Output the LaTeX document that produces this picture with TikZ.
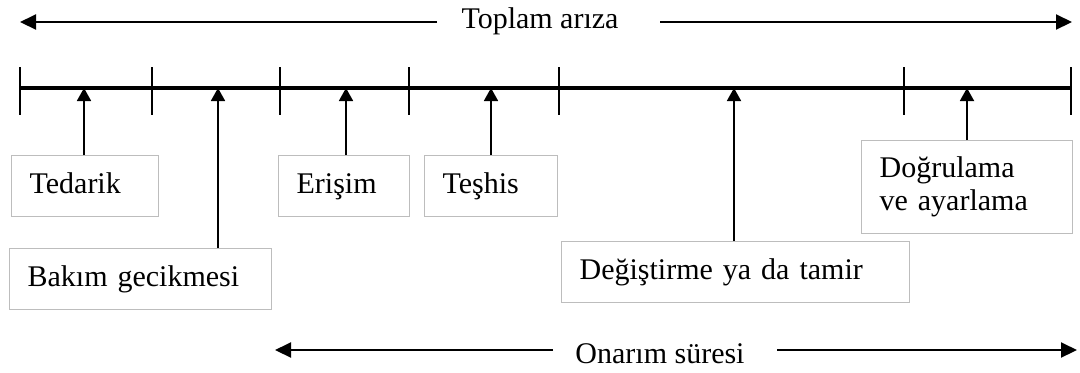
\documentclass[tikz,border=0pt]{standalone}
\usepackage{fontspec}
\setmainfont{Liberation Serif}
\usetikzlibrary{arrows.meta}
\definecolor{boxgray}{HTML}{BDBDBD}
\begin{document}
\begin{tikzpicture}[x=0.5pt,y=-0.5pt,
  box/.style={draw=boxgray, line width=0.6pt, anchor=north west, align=left,
    inner xsep=9pt, inner ysep=0pt, font=\fontsize{15}{16.5}\selectfont},
  onebox/.style={box, text height=11pt, text depth=4pt, minimum height=30.5pt},
  lbl/.style={font=\fontsize{15}{18}\selectfont, inner sep=0pt, anchor=base},
  span/.style={line width=1pt, -{Triangle[length=8pt,width=7.5pt]}},
  uparr/.style={line width=0.9pt, -{Triangle[length=6.5pt,width=7pt]}},
  tick/.style={line width=0.8pt}]
\useasboundingbox (0,0) rectangle (1080,372);

% top span arrow
\node[lbl] (total) at (540,28) {Toplam arıza};
\coordinate (tA) at (437,22);
\coordinate (tL) at (20,22);
\coordinate (tB) at (660,22);
\coordinate (tR) at (1072,22);
\draw[span] (tA) -- (tL);
\draw[span] (tB) -- (tR);

% timeline
\coordinate (s) at (20,88);
\coordinate (e) at (1071,88);
\draw[line width=1.6pt] (s) -- (e);
\foreach \x in {20,152,280,409,559,904,1071}
  \draw[tick] (\x,67) -- (\x,115);

% points on timeline
\coordinate (p1) at (84,88);
\coordinate (p2) at (218,88);
\coordinate (p3) at (346,88);
\coordinate (p4) at (491,88);
\coordinate (p5) at (734,88);
\coordinate (p6) at (967,88);

% boxes
\node[onebox, text width=55.5pt] (ted) at (11,155) {Tedarik};
\node[onebox, text width=113pt] (bak) at (9,248) {Bakım gecikmesi};
\node[onebox, text width=47.5pt] (eri) at (278,155) {Erişim};
\node[onebox, text width=48.5pt] (tes) at (424,155) {Teşhis};
\node[onebox, text width=156pt] (deg) at (561,241) {Değiştirme ya da tamir};
\node[box, text width=87.5pt, minimum height=46.5pt] (dog) at (861,140) {Doğrulama\\ve ayarlama};

% arrows up to timeline
\draw[uparr] (ted.north -| p1) -- (p1);
\draw[uparr] (bak.north -| p2) -- (p2);
\draw[uparr] (eri.north -| p3) -- (p3);
\draw[uparr] (tes.north -| p4) -- (p4);
\draw[uparr] (deg.north -| p5) -- (p5);
\draw[uparr] (dog.north -| p6) -- (p6);

% bottom span arrow
\node[lbl] (repair) at (660,363) {Onarım süresi};
\coordinate (bA) at (553,350);
\coordinate (bL) at (275,350);
\coordinate (bB) at (777,350);
\coordinate (bR) at (1077,350);
\draw[span] (bA) -- (bL);
\draw[span] (bB) -- (bR);
\end{tikzpicture}
\end{document}
